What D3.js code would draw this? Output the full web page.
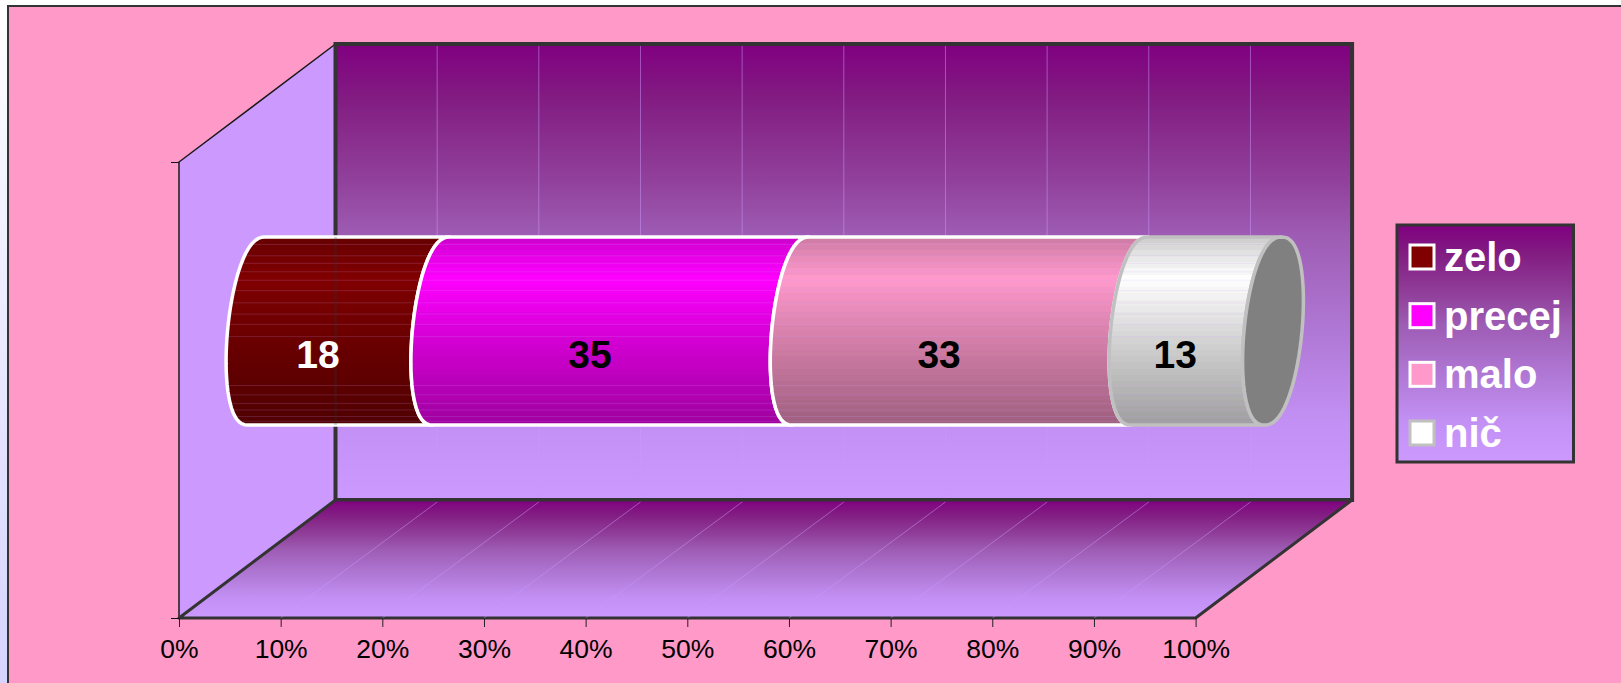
<!DOCTYPE html>
<html>
<head>
<meta charset="utf-8">
<script src="https://cdn.jsdelivr.net/npm/d3@7"></script>
<style>
html, body { margin: 0; padding: 0; background: #fff; }
svg { display: block; font-family: "Liberation Sans", Arial, sans-serif; }
</style>
</head>
<body>
<script>
var width = 1621, height = 683;

// data
var categories = ['zelo', 'precej', 'malo', 'nič'];
var values = [18, 35, 33, 13];
var fills = ['#800000', '#FF00FF', '#FF99CC', '#FFFFFF'];
var edges = ['#FFFFFF', '#FFFFFF', '#FFFFFF', '#C0C0C0'];
var labelColors = ['#FFFFFF', '#000000', '#000000', '#000000'];
var tickValues = d3.range(0, 101, 10);
// thin seams showing on the tube, as a fraction of its height
var seams = [0.04, 0.10, 0.14, 0.185, 0.23, 0.285, 0.35, 0.41, 0.465, 0.53, 0.79, 0.84, 0.885, 0.92, 0.955, 0.98];

var svg = d3.select('body').append('svg').attr('width', width).attr('height', height);
var defs = svg.append('defs');

function vertical(id, stops) {
  var g = defs.append('linearGradient').attr('id', id)
    .attr('x1', 0).attr('y1', 0).attr('x2', 0).attr('y2', 1);
  stops.forEach(function(s) {
    g.append('stop').attr('offset', s[0]).attr('stop-color', s[1]);
  });
}
vertical('page', [[0, '#FFFFFF'], [1, '#D4D4FF']]);
vertical('wall', [[0, '#800080'], [0.12, '#821C82'], [0.3, '#91419B'], [0.42, '#9E5CB4'],
  [0.6, '#AD74D0'], [0.835, '#C391F5'], [1, '#CC99FF']]);

// page + chart area
svg.append('rect').attr('width', width).attr('height', height).attr('fill', 'url(#page)');
svg.append('rect').attr('x', 8).attr('y', 6).attr('width', width).attr('height', height)
  .attr('fill', '#FF99C8').attr('stroke', '#333333').attr('stroke-width', 2);

// 3d box geometry
var x = d3.scaleLinear().domain([0, 100]).range([179, 1195.6]);
var y = d3.scaleLinear().domain([0, 1]).range([618, 162]);
var depthX = 156.5, depthY = -118;
var poly = d3.line();

// side wall
svg.append('path')
  .attr('d', poly([[x(0), y(0)], [x(0), y(1)], [x(0) + depthX, y(1) + depthY], [x(0) + depthX, y(0) + depthY]]) + 'Z')
  .attr('fill', '#CC99FF').attr('stroke', 'none');
svg.append('path')
  .attr('d', poly([[x(0), y(0)], [x(0), y(1)], [x(0) + depthX, y(1) + depthY]]))
  .attr('fill', 'none').attr('stroke', '#1a1a1a').attr('stroke-width', 1.5);

// back wall
svg.append('rect')
  .attr('x', x(0) + depthX).attr('y', y(1) + depthY)
  .attr('width', x(100) - x(0)).attr('height', y(0) - y(1))
  .attr('fill', 'url(#wall)').attr('stroke', '#333333').attr('stroke-width', 4);

// floor
svg.append('path')
  .attr('d', poly([[x(0), y(0)], [x(100), y(0)], [x(100) + depthX, y(0) + depthY], [x(0) + depthX, y(0) + depthY]]) + 'Z')
  .attr('fill', 'url(#wall)').attr('stroke', '#333333').attr('stroke-width', 3).attr('stroke-linejoin', 'round');

// gridlines, back wall and floor
svg.selectAll('.gridBack').data(tickValues.slice(1, -1)).join('line')
  .attr('class', 'gridBack')
  .attr('x1', function(d) { return x(d) + depthX; })
  .attr('x2', function(d) { return x(d) + depthX; })
  .attr('y1', y(1) + depthY + 2).attr('y2', y(0) + depthY - 2)
  .attr('stroke', '#CC99FF').attr('stroke-opacity', 0.5);
svg.selectAll('.gridFloor').data(tickValues.slice(1, -1)).join('line')
  .attr('class', 'gridFloor')
  .attr('x1', function(d) { return x(d) + depthX; })
  .attr('x2', function(d) { return x(d); })
  .attr('y1', y(0) + depthY + 2).attr('y2', y(0))
  .attr('stroke', '#CC99FF').attr('stroke-opacity', 0.5);

// axes
var axisX = svg.append('g').attr('transform', 'translate(0,' + y(0) + ')')
  .call(d3.axisBottom(x).tickValues(tickValues).tickSize(9).tickFormat(function(d) { return d + '%'; }));
axisX.select('.domain').remove();
axisX.selectAll('line').attr('stroke', '#222');
axisX.selectAll('text').attr('font-size', 26.5).attr('font-family', '"Liberation Sans"')
  .attr('fill', '#000').attr('dy', null).attr('y', 40);

var axisY = svg.append('g').attr('transform', 'translate(' + x(0) + ',0)')
  .call(d3.axisLeft(y).tickValues([0, 1]).tickSize(8).tickFormat(''));
axisY.select('.domain').remove();
axisY.selectAll('line').attr('stroke', '#111');

// cylinder
var total = d3.sum(values);
var barX = d3.scaleLinear().domain([0, total]).range([256.5, 1273]);
var barY = d3.scaleLinear().domain([-1, 1]).range([237, 425]);
var ra = 29, shear = 8.5;
var thetas = d3.range(-90, 90.1, 5).map(function(d) { return d * Math.PI / 180; });

// left half of an end cap, top to bottom
function cap(cx) {
  return thetas.map(function(t) {
    return [cx - ra * Math.pow(Math.abs(Math.cos(t)), 0.85) - shear * Math.sin(t), barY(Math.sin(t))];
  });
}
function capRight(cx) {
  return thetas.map(function(t) {
    return [cx + ra * Math.pow(Math.abs(Math.cos(t)), 0.85) - shear * Math.sin(t), barY(Math.sin(t))];
  }).reverse();
}
function segPath(i) {
  var x0 = barX(i ? cumulative[i - 1] : 0), x1 = barX(cumulative[i]);
  return poly(cap(x0).concat(cap(x1).reverse())) + 'Z';
}

// light and dark bands down the tube, relative brightness
var bandCount = 30;
var bandShade = d3.scaleLinear().domain([0, 0.1, 0.22, 0.5, 1]).range([0.8, 0.9, 1, 0.85, 0.62]);
var cumulative = d3.cumsum(values);

values.forEach(function(v, i) {
  var base = d3.rgb(fills[i]);
  var stops = [];
  d3.range(bandCount).forEach(function(b) {
    var k = bandShade((b + 0.5) / bandCount);
    var c = d3.rgb(base.r * k, base.g * k, base.b * k).formatHex();
    stops.push([b / bandCount, c]);
    stops.push([(b + 1) / bandCount, c]);
  });
  vertical('seg' + i, stops);
  defs.append('clipPath').attr('id', 'clip' + i).append('path').attr('d', segPath(i));
});

var seg = svg.selectAll('.seg').data(values).join('g').attr('class', 'seg');
seg.append('path')
  .attr('d', function(d, i) { return segPath(i); })
  .attr('fill', function(d, i) { return 'url(#seg' + i + ')'; });
seg.append('g')
  .attr('clip-path', function(d, i) { return 'url(#clip' + i + ')'; })
  .selectAll('line').data(seams).join('line')
  .attr('x1', 200).attr('x2', 1300)
  .attr('y1', function(d) { return barY(d * 2 - 1); })
  .attr('y2', function(d) { return barY(d * 2 - 1); })
  .attr('stroke', '#CC99FF').attr('stroke-opacity', 0.18);
// back wall edge showing faintly through the first segment
svg.append('line')
  .attr('x1', x(0) + depthX).attr('x2', x(0) + depthX)
  .attr('y1', barY(-1)).attr('y2', barY(1))
  .attr('stroke', '#333333').attr('stroke-opacity', 0.2).attr('stroke-width', 3);
seg.append('path')
  .attr('d', function(d, i) { return segPath(i); })
  .attr('fill', 'none')
  .attr('stroke', function(d, i) { return edges[i]; })
  .attr('stroke-width', 3.5)
  .attr('stroke-linejoin', 'round');

// end cap
svg.append('path')
  .attr('d', poly(cap(barX(total)).concat(capRight(barX(total)))) + 'Z')
  .attr('fill', '#808080').attr('stroke', '#C0C0C0').attr('stroke-width', 3.5);

// value labels
svg.selectAll('.val').data(values).join('text')
  .attr('class', 'val')
  .attr('x', function(d, i) { return barX(cumulative[i] - d / 2) - 31; })
  .attr('y', 368)
  .attr('text-anchor', 'middle')
  .attr('font-size', 39).attr('font-weight', 'bold')
  .attr('fill', function(d, i) { return labelColors[i]; })
  .text(function(d) { return d; });

// legend
var legend = svg.append('g');
legend.append('rect').attr('x', 1397).attr('y', 225).attr('width', 176.5).attr('height', 237)
  .attr('fill', 'url(#wall)').attr('stroke', '#333333').attr('stroke-width', 3);
var legendY = d3.scalePoint().domain(categories).range([245, 421]);
var item = legend.selectAll('.item').data(categories).join('g').attr('class', 'item')
  .attr('transform', function(d) { return 'translate(1410,' + legendY(d) + ')'; });
item.append('rect').attr('width', 24).attr('height', 24)
  .attr('fill', function(d, i) { return fills[i]; })
  .attr('stroke', function(d, i) { return edges[i]; }).attr('stroke-width', 3);
item.append('text').attr('x', 34).attr('y', 26)
  .attr('font-size', 40).attr('font-weight', 'bold').attr('fill', '#FFFFFF')
  .text(function(d) { return d; });
</script>
</body>
</html>
